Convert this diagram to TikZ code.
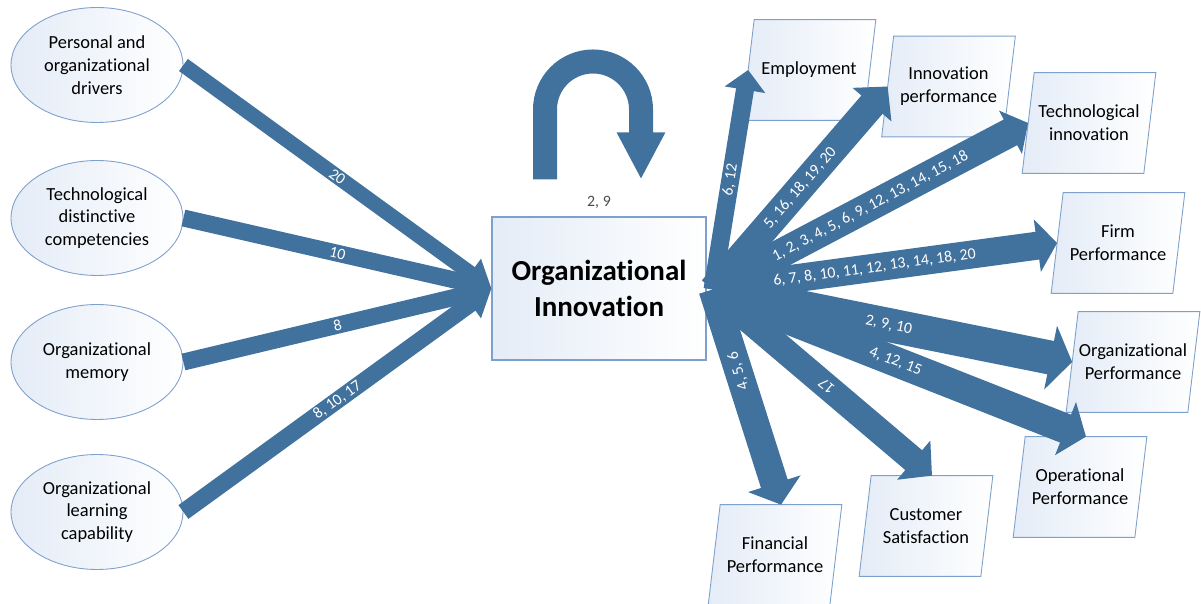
\documentclass[tikz,border=0pt]{standalone}
\usepackage{fontspec}
\setmainfont{Carlito}[Ligatures=NoCommon]
\usetikzlibrary{shapes.geometric,arrows.meta,calc,positioning,backgrounds}

\definecolor{flowblue}{RGB}{65,113,157}
\definecolor{rimblue}{RGB}{126,160,204}
\definecolor{paleblue}{RGB}{228,236,247}

\tikzset{
  driver/.style={ellipse, draw=rimblue, line width=0.5pt,
    left color=paleblue, right color=white,
    minimum width=3.44cm, minimum height=2.3cm, inner sep=0pt,
    align=center, font=\fontsize{10.5}{13}\selectfont},
  core/.style={rectangle, draw=rimblue, line width=0.6pt,
    left color=paleblue, right color=white,
    minimum width=4.28cm, minimum height=2.86cm, align=center,
    font=\fontsize{16.5}{20.5}\selectfont\bfseries},
  outcome/.style={rectangle, minimum width=2.42cm, minimum height=2cm,
    inner sep=0pt, align=center, font=\fontsize{10.5}{13}\selectfont},
  slantbox/.style={draw=rimblue, line width=0.5pt,
    left color=paleblue, right color=white},
  flow/.style n args={3}{draw=flowblue, line width=#1,
    -{Triangle[width=#2,length=#3]}},
  refs/.style={text=white, font=\fontsize{9}{10}\selectfont, sloped,
    allow upside down, inner sep=1pt},
}

\begin{document}
\begin{tikzpicture}[x=0.02cm, y=-0.02cm]
\useasboundingbox (0,0) rectangle (1201,604);

% drivers (left)
\foreach \n/\y/\txt in {1/65/{Personal and\\organizational\\drivers},
    2/218/{Technological\\distinctive\\competencies},
    3/362/{Organizational\\memory},
    4/512/{Organizational\\learning\\capability}} {
  \node[driver] (d\n) at (97,\y) {\txt};
}

% central box
\node[core] (oi) at (599,288.5) {Organizational\\Innovation};
\node[above=1pt of oi, font=\fontsize{9}{10}\selectfont, text=black!70]
  (selfref) {2, 9};

% outcomes (right)
\foreach \b/\x/\y/\txt in {emp/809/70/Employment,
    inn/948.5/86.5/{Innovation\\performance},
    tech/1089/123/{Technological\\innovation},
    firm/1118/243/{Firm\\Performance},
    org/1133/362/{Organizational\\Performance},
    ope/1080/487/{Operational\\Performance},
    cus/926/526/{Customer\\Satisfaction},
    fin/775/555/{Financial\\Performance}} {
  \node[outcome] (\b) at (\x,\y) {\txt};
}

% slanted frames behind the outcomes
\begin{scope}[on background layer]
\foreach \b in {emp,inn,tech,firm,org,ope,cus,fin}
  \draw[slantbox] ($(\b.north west)+(6,0)$) -- ($(\b.north east)+(6,0)$)
    -- ($(\b.south east)+(-6,0)$) -- ($(\b.south west)+(-6,0)$) -- cycle;
\end{scope}

% inflows
\foreach \n/\w/\lab in {1/0.3cm/20, 2/0.34cm/10, 3/0.34cm/8,
    4/0.34cm/{8, 10, 17}}
  \draw[flow={\w}{0.68cm}{0.52cm}] (d\n.east) -- (oi.west)
    node[refs, midway] {\lab};

% self loop
\coordinate (loopa) at ($(oi.north)+(-54,-37)$);
\coordinate (loopb) at ($(oi.north)+(42,-37)$);
\draw[flow={0.48cm}{0.9cm}{0.94cm}] (loopa) -- ++(0,-70)
  arc[start angle=180, end angle=360, radius=48] -- (loopb);

% outflows
\coordinate (out) at ($(oi.east)+(6,1)$);
\coordinate (ope-in) at ($(ope.north)+(6,0)$);
\coordinate (cus-in) at ($(cus.north)+(6,0)$);
\coordinate (fin-in) at ($(fin.north)+(6,0)$);
\foreach \dst/\w/\hw/\hl/\p/\r/\lab in {
    emp.west/0.36cm/0.8cm/0.4cm/0.5/0/{6, 12},
    inn.west/0.56cm/1.0cm/0.48cm/0.5/0/{5, 16, 18, 19, 20},
    tech.west/0.58cm/0.96cm/0.4cm/0.5/0/{1, 2, 3, 4, 5, 6, 9, 12, 13, 14, 15, 18},
    firm.west/0.56cm/1.04cm/0.4cm/0.47/0/{6, 7, 8, 10, 11, 12, 13, 14, 18, 20},
    org.west/0.68cm/1.28cm/0.44cm/0.49/0/{2, 9, 10},
    ope-in/0.6cm/1.12cm/0.44cm/0.49/0/{4, 12, 15},
    cus-in/0.52cm/1.0cm/0.48cm/0.52/180/17,
    fin-in/0.56cm/1.08cm/0.44cm/0.38/180/{4, 5, 6}}
  \draw[flow={\w}{\hw}{\hl}] (out) -- (\dst)
    node[refs, pos=\p, rotate=\r] {\lab};

\end{tikzpicture}
\end{document}
